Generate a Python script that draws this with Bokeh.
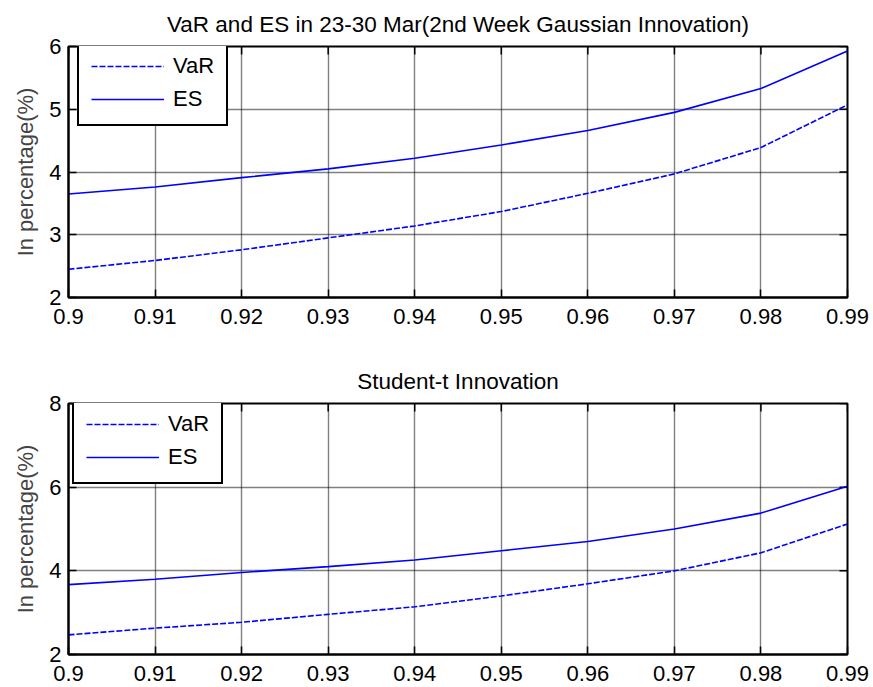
import math
from bokeh.plotting import figure
from bokeh.models import Range1d, FixedTicker, Legend, LegendItem
from bokeh.layouts import column
from bokeh.embed import file_html
from bokeh.resources import INLINE

conf = [0.90, 0.91, 0.92, 0.93, 0.94, 0.95, 0.96, 0.97, 0.98, 0.99]
x_tick_labels = ["0.9", "0.91", "0.92", "0.93", "0.94", "0.95", "0.96", "0.97", "0.98", "0.99"]

gauss_var = [2.45, 2.59, 2.76, 2.95, 3.14, 3.37, 3.66, 3.97, 4.39, 5.07]
gauss_es = [3.65, 3.76, 3.91, 4.05, 4.22, 4.43, 4.66, 4.95, 5.33, 5.93]
t_var = [2.47, 2.63, 2.77, 2.96, 3.14, 3.40, 3.69, 4.00, 4.43, 5.12]
t_es = [3.67, 3.80, 3.96, 4.10, 4.26, 4.48, 4.70, 5.00, 5.38, 6.02]

top_yticks = [2, 3, 4, 5, 6]
bot_yticks = [2, 4, 6, 8]

FONT = "Liberation Sans"
FS = "22px"


def style_axis(ax, ticks, overrides=None):
    ax.ticker = FixedTicker(ticks=ticks)
    ax.minor_tick_line_color = None
    ax.major_tick_in = 8
    ax.major_tick_out = 0
    ax.major_tick_line_color = "black"
    ax.major_tick_line_width = 1.5
    ax.axis_line_color = "black"
    ax.axis_line_width = 2
    ax.major_label_text_font = FONT
    ax.major_label_text_font_size = FS
    ax.major_label_text_color = "black"
    if overrides:
        ax.major_label_overrides = overrides


def make(title, yticks, var, es, height, top, bottom, leg_xy):
    p = figure(width=873, height=height,
               x_range=Range1d(conf[0], conf[-1]), y_range=Range1d(yticks[0], yticks[-1]),
               output_backend="svg", toolbar_location=None,
               min_border_left=68, min_border_right=26,
               min_border_top=top, min_border_bottom=bottom)
    p.title.text = title
    p.title.align = "center"
    p.title.text_font = FONT
    p.title.text_font_size = "22.5px"
    p.title.text_font_style = "normal"
    p.title.text_color = "black"
    p.title.standoff = 19
    p.outline_line_color = "black"
    p.outline_line_width = 2
    p.outline_line_alpha = 1
    p.background_fill_color = "white"
    p.border_fill_color = "white"

    overrides = {t: l for t, l in zip(conf, x_tick_labels)}
    style_axis(p.xaxis[0], conf, overrides)
    p.xaxis[0].major_label_standoff = 11
    style_axis(p.yaxis[0], yticks)
    p.yaxis[0].major_label_standoff = 7
    p.yaxis[0].axis_label = "In percentage(%)"
    p.yaxis[0].axis_label_text_font = FONT
    p.yaxis[0].axis_label_text_font_size = FS
    p.yaxis[0].axis_label_text_font_style = "normal"
    p.yaxis[0].axis_label_standoff = 8

    for g in (p.xgrid[0], p.ygrid[0]):
        g.grid_line_color = "black"
        g.grid_line_dash = "1 1"
        g.grid_line_width = 1.4
    p.xgrid[0].ticker = FixedTicker(ticks=conf)
    p.ygrid[0].ticker = FixedTicker(ticks=yticks)

    # inward tick marks on the top and right edges of the box (clipped to the frame)
    p.scatter(x=conf, y=[yticks[-1]] * len(conf), marker="dash", angle=math.pi / 2,
              size=16, line_color="black", line_width=1.5)
    p.scatter(x=[conf[-1]] * len(yticks), y=yticks, marker="dash",
              size=16, line_color="black", line_width=1.5)

    r1 = p.line(conf, var, line_color="#0000FF", line_width=1.6, line_dash="6 2")
    r2 = p.line(conf, es, line_color="#0000FF", line_width=1.6)

    leg = Legend(items=[LegendItem(label="VaR", renderers=[r1]),
                        LegendItem(label="ES", renderers=[r2])],
                 location=leg_xy, margin=0, padding=12, spacing=7,
                 glyph_width=73, glyph_height=24, label_height=24,
                 label_standoff=9, label_text_font=FONT,
                 label_text_font_size=FS, label_text_color="black",
                 border_line_color="black", border_line_width=2,
                 border_line_alpha=1,
                 background_fill_color="white", background_fill_alpha=1)
    p.add_layout(leg, "center")
    return p


p1 = make("VaR and ES in 23-30 Mar(2nd Week Gaussian Innovation)", top_yticks,
          gauss_var, gauss_es, 350, 45, 53, (9, 171))
p2 = make("Student-t Innovation", bot_yticks,
          t_var, t_es, 337, 53, 33, (4, 170))

layout = column(p1, p2, spacing=0)
open("out.html", "w").write(file_html(layout, INLINE))
